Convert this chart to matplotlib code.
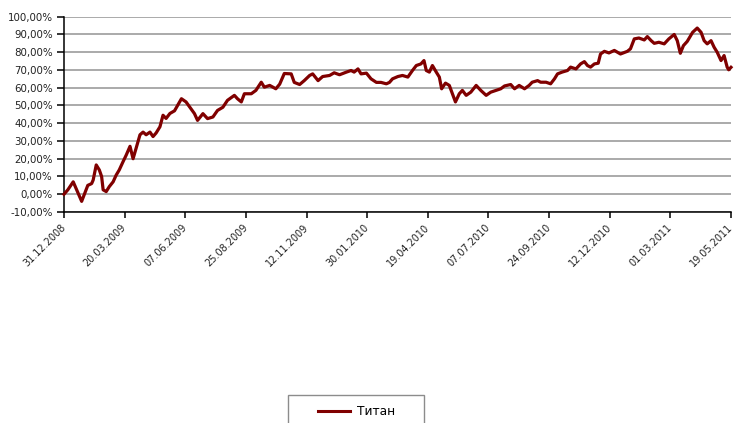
import numpy as np
import matplotlib
matplotlib.use("Agg")
import matplotlib.pyplot as plt
import matplotlib.patches as mpatches
from matplotlib.lines import Line2D
from matplotlib.ticker import FuncFormatter

# ── Data: days after 31.12.2008, return in % ─────────────────────────────────
START = np.datetime64("2008-12-31")
END = np.datetime64("2011-05-19")
TICK_STEP = 79  # days between date labels

DAYS = [0, 5, 12, 15, 23, 27, 31, 36, 38, 42, 46, 49, 51, 55, 59, 64, 68, 72,
        77, 81, 86, 90, 94, 99, 103, 107, 112, 116, 120, 125, 129, 133, 138,
        144, 153, 159, 164, 170, 174, 181, 187, 194, 200, 207, 213, 222, 226,
        231, 235, 244, 250, 257, 261, 268, 276, 281, 287, 296, 300, 307, 313,
        320, 324, 331, 337, 346, 352, 359, 368, 374, 378, 383, 387, 394, 400,
        407, 413, 420, 424, 428, 435, 441, 448, 454, 459, 465, 469, 472, 476,
        480, 485, 489, 492, 497, 502, 506, 510, 515, 519, 524, 530, 537, 543,
        550, 556, 563, 569, 574, 582, 587, 593, 600, 606, 610, 617, 621, 628,
        634, 639, 643, 649, 656, 660, 667, 673, 678, 682, 686, 691, 696, 699,
        704, 710, 717, 725, 734, 738, 743, 749, 756, 760, 765, 769, 775, 782,
        788, 795, 799, 803, 807, 812, 819, 825, 830, 834, 838, 843, 847, 851,
        856, 860, 864, 866, 869]
TITAN = [0.0, 2.5, 7.0, 4.0, -4.0, 0.5, 5.0, 6.0, 8.0, 16.5, 13.7, 10.0, 2.5,
         1.5, 4.3, 7.0, 10.8, 13.7, 18.4, 22.0, 27.0, 20.0, 26.0, 33.5, 35.0,
         33.5, 35.0, 32.5, 34.5, 38.0, 44.5, 42.7, 45.5, 47.0, 53.8, 52.0, 49.0,
         45.4, 41.6, 45.4, 42.6, 43.5, 47.2, 49.0, 52.9, 55.7, 53.8, 52.0, 56.6,
         56.6, 58.5, 63.1, 60.3, 61.3, 59.4, 62.0, 68.0, 67.8, 63.0, 61.8, 64.0,
         66.9, 67.8, 64.0, 66.3, 66.9, 68.4, 67.3, 68.8, 69.7, 68.8, 70.6, 67.8,
         68.2, 65.0, 63.0, 63.0, 62.2, 63.0, 65.0, 66.3, 66.9, 66.0, 69.7, 72.5,
         73.4, 75.3, 69.7, 68.8, 72.5, 68.8, 66.0, 59.4, 62.6, 61.3, 56.6, 52.0,
         56.6, 58.5, 55.7, 57.5, 61.3, 58.5, 55.7, 57.5, 58.5, 59.4, 61.0, 61.8,
         59.4, 61.3, 59.4, 61.3, 63.1, 64.0, 63.1, 63.1, 62.2, 65.0, 67.8, 68.8,
         69.7, 71.6, 70.6, 73.4, 74.7, 72.5, 71.6, 73.4, 73.8, 79.0, 80.5, 79.6,
         81.0, 79.0, 80.5, 81.9, 87.5, 88.0, 86.9, 88.8, 86.5, 85.0, 85.6, 84.7,
         87.5, 90.0, 86.5, 79.4, 83.7, 86.1, 91.2, 93.6, 91.2, 86.5, 84.7, 86.5,
         82.8, 80.0, 75.3, 78.1, 71.6, 70.1, 71.5]
SERIES_NAME = "Титан"

dates = START + np.array(DAYS, dtype="timedelta64[D]")
tick_dates = START + np.arange(0, (END - START).astype(int) + 1, TICK_STEP).astype("timedelta64[D]")

LINE_COLOR = "#800000"
GRID_COLOR = "#9c9c9c"

# ── Plot ──────────────────────────────────────────────────────────────────────
fig = plt.figure(figsize=(7.34, 4.23), dpi=100)
ax = fig.add_axes([64 / 734, 1 - 212 / 423, 667 / 734, (212 - 16.7) / 423])

ax.plot(dates, TITAN, color=LINE_COLOR, lw=2.3, solid_joinstyle="round",
        zorder=3, clip_on=False)

ax.set_ylim(-10, 100)
ax.set_yticks(np.arange(-10, 101, 10))
ax.yaxis.set_major_formatter(FuncFormatter(lambda v, _: f"{v:.2f}".replace(".", ",") + "%"))
ax.grid(axis="y", color=GRID_COLOR, lw=1.2, zorder=0)
ax.set_axisbelow(True)

ax.set_xlim(START, END)
ax.set_xticks(tick_dates)
ax.set_xticklabels([str(d)[8:10] + "." + str(d)[5:7] + "." + str(d)[0:4] for d in tick_dates],
                   rotation=45, ha="right", va="center", rotation_mode="anchor")

ax.spines[["top", "right"]].set_visible(False)
for sp in ("left", "bottom"):
    ax.spines[sp].set_color("black")
    ax.spines[sp].set_linewidth(1.1)
ax.tick_params(axis="y", direction="out", length=5, width=1.1, labelsize=7.4,
               labelcolor="#222222", pad=3)
ax.tick_params(axis="x", direction="out", length=4, width=1.1, labelsize=7.0,
               labelcolor="#222222", pad=6)

# ── Legend (box runs off the bottom edge as in the original) ──────────────────
fig.patches.append(mpatches.Rectangle((288 / 734, -0.05), 136 / 734, 0.05 + 28 / 423,
                                      transform=fig.transFigure, fill=False,
                                      edgecolor="#8c8c8c", lw=1.0))
handle = Line2D([], [], color=LINE_COLOR, lw=2.2)
fig.legend(handles=[handle], labels=[SERIES_NAME], loc="center",
           bbox_to_anchor=(357 / 734, 1 - 411.5 / 423), frameon=False,
           fontsize=8.8, handlelength=2.6, handletextpad=0.6, borderpad=0)

plt.savefig("out.png", dpi=100)
plt.close()
print("Saved: out.png")
